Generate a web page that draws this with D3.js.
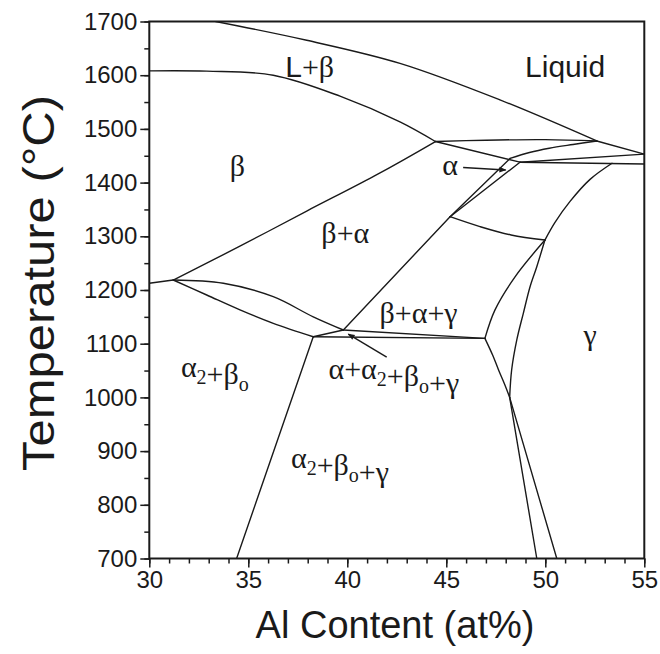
<!DOCTYPE html>
<html>
<head>
<meta charset="utf-8">
<script src="https://cdn.jsdelivr.net/npm/d3@7"></script>
<style>
  body { margin: 0; background: #fff; }
  svg { display: block; }
</style>
</head>
<body>
<svg id="chart" width="660" height="654"></svg>
<script>
// ---- axis ticks ----
const xTickValues = [30, 35, 40, 45, 50, 55];
const xMinorValues = d3.range(30, 55.5, 1);
const yTickValues = [700, 800, 900, 1000, 1100, 1200, 1300, 1400, 1500, 1600, 1700];
const yMinorValues = d3.range(700, 1701, 50);

// ---- phase boundaries, points as [Al at%, T in °C] ----
const liquidusBeta    = [[33.35, 1700], [37.95, 1665], [42.66, 1622], [47.71, 1554], [52.6, 1477.5]];
const liquidusAlpha   = [[52.6, 1477.5], [55, 1453]];
const betaSolidus     = [[30, 1608], [32.9, 1607.5], [36.26, 1600], [39.63, 1561], [42.66, 1513], [44.45, 1476.5]];
const peritectic      = [[44.45, 1476.5], [47, 1479], [50, 1480], [52.6, 1477.5]];
const alphaBandUpper  = [[45.19, 1336.5], [48.22, 1445]];
const alphaSolidus    = [[48.22, 1445], [49.2, 1456], [50.2, 1464], [51.4, 1471], [52.6, 1477.5]];
const alphaBandLower  = [[45.19, 1336.5], [48.72, 1438]];
const betaAlphaTie    = [[44.45, 1476.5], [48.72, 1438]];
const alphaRightUpper = [[48.72, 1438], [55, 1453]];
const alphaRightLower = [[48.72, 1438], [55, 1434.5]];
const gammaSolvusHigh = [[53.37, 1436], [52.26, 1406], [51.25, 1365], [50.49, 1326], [49.98, 1293]];
const betaTransus     = [[31.21, 1218.6], [34.6, 1282], [37.95, 1347], [41.35, 1412], [44.45, 1476.5]];
const eutectoidLeft   = [[30, 1212.5], [31.21, 1218.6]];
const alpha2Upper     = [[31.21, 1218.6], [33.74, 1212.5], [36.26, 1187.5], [38.28, 1150], [39.8, 1125.5]];
const alpha2Lower     = [[31.21, 1218.6], [32.9, 1190.7], [34.58, 1163], [36.26, 1138], [38.28, 1113]];
const fourPhaseLink   = [[38.28, 1113], [39.8, 1125.5]];
const threePhaseLeft  = [[39.8, 1125.5], [45.19, 1336.5]];
const alphaGammaTop   = [[45.19, 1336.5], [46.7, 1318], [48.27, 1302.4], [49.98, 1293]];
const threePhaseRight = [[49.98, 1293], [48.48, 1225], [47.46, 1163], [46.95, 1110]];
const gammaSolvusMid  = [[49.98, 1293], [49.57, 1243.4], [49.23, 1206], [48.89, 1156.6], [48.56, 1107], [48.3, 1051], [48.2, 1000]];
const betaGammaEdge   = [[46.95, 1110], [47.35, 1078], [47.65, 1050], [47.95, 1024], [48.2, 1000]];
const fourPhaseUpper  = [[39.8, 1125.5], [46.95, 1110]];
const fourPhaseLower  = [[38.28, 1113], [46.95, 1110]];
const alpha2Solvus    = [[38.28, 1113], [34.41, 700]];
const gammaLowLeft    = [[48.2, 1000], [49.57, 700]];
const gammaLowRight   = [[48.2, 1000], [50.58, 700]];

const straightLines = [liquidusAlpha, alphaBandUpper, alphaBandLower, betaAlphaTie,
  alphaRightUpper, alphaRightLower, eutectoidLeft, fourPhaseLink, threePhaseLeft,
  fourPhaseUpper, fourPhaseLower, alpha2Solvus, gammaLowLeft, gammaLowRight];
const curvedLines = [liquidusBeta, betaSolidus, peritectic, alphaSolidus, gammaSolvusHigh,
  betaTransus, alpha2Upper, alpha2Lower, alphaGammaTop, threePhaseRight, gammaSolvusMid,
  betaGammaEdge];

// ---- phase field names ("_" starts a one-character subscript) ----
const fieldNames = ["L+β", "Liquid", "β", "β+α", "α", "β+α+γ", "γ", "α_2+β_o", "α+α_2+β_o+γ", "α_2+β_o+γ"];
const fieldAnchors = [[38.1, 1597], [51.0, 1597], [34.45, 1412], [39.9, 1287], [45.19, 1414],
  [43.6, 1138], [52.26, 1098], [33.31, 1038], [42.35, 1035], [39.63, 869]];
// Leader arrows: [from, to]
const pointerArrows = [
  [[45.85, 1428], [48.0, 1423.5]],
  [[41.99, 1075], [40.05, 1118]]
];

// ---- layout ----
const plot = { left: 149.3, right: 644.3, top: 21.5, bottom: 558.5 };

const svg = d3.select("#chart");
const x = d3.scaleLinear().domain([30, 55]).range([plot.left, plot.right]);
const y = d3.scaleLinear().domain([700, 1700]).range([plot.bottom, plot.top]);

const sans = "'Liberation Sans', Arial, Helvetica, sans-serif";
const serif = "'Liberation Serif', 'Times New Roman', serif";
const ink = "#1a1a1a";

const defs = svg.append("defs");
defs.append("clipPath").attr("id", "plotClip")
  .append("rect")
  .attr("x", plot.left).attr("y", plot.top)
  .attr("width", plot.right - plot.left).attr("height", plot.bottom - plot.top);

defs.append("marker")
  .attr("id", "head")
  .attr("viewBox", "0 0 10 10")
  .attr("refX", 9).attr("refY", 5)
  .attr("markerWidth", 11).attr("markerHeight", 7)
  .attr("markerUnits", "userSpaceOnUse")
  .attr("orient", "auto")
  .append("path").attr("d", "M0,1 L10,5 L0,9 Z").attr("fill", ink);

// ---- boundaries ----
const gLines = svg.append("g").attr("clip-path", "url(#plotClip)")
  .attr("fill", "none").attr("stroke", ink).attr("stroke-width", 1.4)
  .attr("stroke-linejoin", "round").attr("stroke-linecap", "round");

const lineStraight = d3.line().x(d => x(d[0])).y(d => y(d[1]));
const lineCurved = d3.line().x(d => x(d[0])).y(d => y(d[1])).curve(d3.curveCatmullRom.alpha(0.5));

gLines.selectAll("path.s").data(straightLines).join("path").attr("class", "s").attr("d", lineStraight);
gLines.selectAll("path.c").data(curvedLines).join("path").attr("class", "c").attr("d", lineCurved);

// ---- axes ----
const fmt = d3.format("d");
const xAxis = d3.axisBottom(x).tickValues(xTickValues).tickFormat(fmt).tickSize(9).tickSizeOuter(0).tickPadding(3);
const xMinor = d3.axisBottom(x).tickValues(xMinorValues).tickSize(5).tickSizeOuter(0).tickFormat("");
const yAxis = d3.axisLeft(y).tickValues(yTickValues).tickFormat(fmt).tickSize(9).tickSizeOuter(0).tickPadding(3);
const yMinor = d3.axisLeft(y).tickValues(yMinorValues).tickSize(5).tickSizeOuter(0).tickFormat("");

function styleAxis(g) {
  g.selectAll("path.domain").remove();
  g.selectAll(".tick line").attr("stroke", ink).attr("stroke-width", 1.5);
  g.selectAll(".tick text").attr("fill", ink).attr("font-family", sans).attr("font-size", 24);
}

svg.append("g").attr("transform", `translate(0,${plot.bottom})`).call(xMinor).call(styleAxis);
svg.append("g").attr("transform", `translate(0,${plot.bottom})`).call(xAxis).call(styleAxis);
svg.append("g").attr("transform", `translate(${plot.left},0)`).call(yMinor).call(styleAxis);
svg.append("g").attr("transform", `translate(${plot.left},0)`).call(yAxis).call(styleAxis);

// frame
svg.append("rect")
  .attr("x", plot.left).attr("y", plot.top)
  .attr("width", plot.right - plot.left).attr("height", plot.bottom - plot.top)
  .attr("fill", "none").attr("stroke", ink).attr("stroke-width", 2);

// axis titles
svg.append("text")
  .attr("x", 395).attr("y", 638)
  .attr("text-anchor", "middle").attr("font-family", sans).attr("font-size", 38)
  .attr("fill", ink).text("Al Content (at%)");

svg.append("text")
  .attr("transform", "translate(54,283) rotate(-90)")
  .attr("text-anchor", "middle").attr("font-family", sans).attr("font-size", 44)
  .attr("textLength", 376).attr("lengthAdjust", "spacingAndGlyphs")
  .attr("fill", ink).text("Temperature (°C)");

// ---- phase field labels ----
const gLabels = svg.append("g").attr("fill", ink);
fieldNames.forEach((name, i) => {
  const [ax, ay] = fieldAnchors[i];
  const t = gLabels.append("text")
    .attr("x", x(ax)).attr("y", y(ay))
    .attr("text-anchor", "middle").attr("font-size", 30);
  let k = 0;
  while (k < name.length) {
    const ch = name[k];
    if (ch === "_") {
      t.append("tspan").attr("font-family", serif).attr("font-size", 20)
        .attr("dy", 7).text(name[k + 1]);
      t.append("tspan").attr("dy", -7).text("");
      k += 2;
      continue;
    }
    const isLatin = /[A-Za-z]/.test(ch);
    t.append("tspan").attr("font-family", isLatin ? sans : serif).text(ch);
    k += 1;
  }
});

// leader arrows
svg.append("g").selectAll("line").data(pointerArrows).join("line")
  .attr("x1", d => x(d[0][0])).attr("y1", d => y(d[0][1]))
  .attr("x2", d => x(d[1][0])).attr("y2", d => y(d[1][1]))
  .attr("stroke", ink).attr("stroke-width", 1.4)
  .attr("marker-end", "url(#head)");
</script>
</body>
</html>
